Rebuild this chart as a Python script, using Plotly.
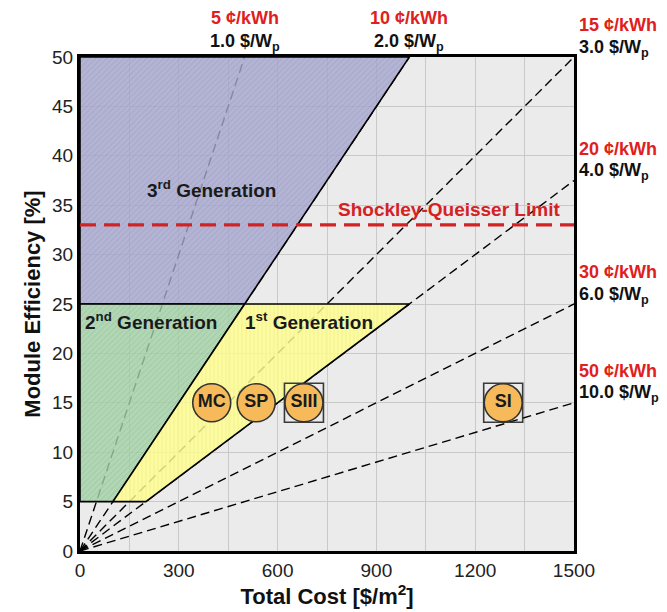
import plotly.graph_objects as go

# Cost-parity reference lines: module price [$/Wp] and matching LCOE [cents/kWh]
price_per_wp = [1.0, 2.0, 3.0, 4.0, 6.0, 10.0]
cents_per_kwh = [5, 10, 15, 20, 30, 50]

# Technology generation regions (cost [$/m2], efficiency [%])
gen3_cost = [0, 500, 1000, 0]
gen3_eff = [25, 25, 50, 50]
gen2_cost = [0, 100, 500, 0]
gen2_eff = [5, 5, 25, 25]
gen1_cost = [100, 200, 1000, 500]
gen1_eff = [5, 5, 25, 25]

# Module technologies
tech_names = ["MC", "SP", "SIII", "SI"]
tech_cost = [400, 535, 680, 1285]
tech_eff = [15, 15, 15, 15]
tech_boxed = [False, False, True, True]

sq_limit = 33.0
x_max, y_max = 1500, 50

FONT = "Liberation Sans"

fig = go.Figure()

# Dashed iso-price lines: efficiency = cost / (10 * price)
for p in price_per_wp:
    x_end = min(x_max, y_max * 10 * p)
    fig.add_trace(go.Scatter(
        x=[0, x_end], y=[0, x_end / (10 * p)], mode="lines",
        line=dict(color="black", width=1.4, dash="9px,5px"),
        hoverinfo="skip", showlegend=False))

regions = [
    (gen3_cost, gen3_eff, "rgba(166,168,206,0.80)", "rgba(125,127,172,0.55)", "/"),
    (gen2_cost, gen2_eff, "rgba(162,210,168,0.80)", "rgba(118,166,124,0.55)", "/"),
    (gen1_cost, gen1_eff, "rgba(255,255,145,0.82)", "rgba(220,212,80,0.55)", "|"),
]
for xs, ys, bg, fg, shape in regions:
    fig.add_trace(go.Scatter(
        x=xs + xs[:1], y=ys + ys[:1], mode="lines", fill="toself",
        fillcolor=bg,
        fillpattern=dict(shape=shape, size=4, solidity=0.25,
                         fgcolor=fg, bgcolor=bg),
        line=dict(color="black", width=1.6),
        hoverinfo="skip", showlegend=False))

# Shockley-Queisser limit
fig.add_trace(go.Scatter(
    x=[0, x_max], y=[sq_limit, sq_limit], mode="lines",
    line=dict(color="#D42224", width=3.2, dash="16px,8px"),
    hoverinfo="skip", showlegend=False))

# Boxes around selected technologies
bx = [c for c, b in zip(tech_cost, tech_boxed) if b]
by = [e for e, b in zip(tech_eff, tech_boxed) if b]
fig.add_trace(go.Scatter(
    x=bx, y=by, mode="markers",
    marker=dict(symbol="square-open", size=39, color="#3a3a3a",
                line=dict(width=1.6, color="#3a3a3a")),
    hoverinfo="skip", showlegend=False))

fig.add_trace(go.Scatter(
    x=tech_cost, y=tech_eff, mode="markers+text", text=tech_names,
    textposition="middle center",
    textfont=dict(family=FONT, size=18, color="#1a1a1a", weight="bold"),
    marker=dict(symbol="circle", size=38, color="#F6BA5A",
                line=dict(width=1.6, color="#333333")),
    hoverinfo="skip", showlegend=False))

annotations = []
for p, c in zip(price_per_wp, cents_per_kwh):
    x_end = min(x_max, y_max * 10 * p)
    y_end = x_end / (10 * p)
    if x_end < x_max:
        ax, xanchor, xshift = x_end, "center", 0
        dy_price, dy_cents = 1.5, 3.9
    else:
        ax, xanchor, xshift = x_max, "left", 3
        dy_price, dy_cents = 0.9, 3.2
    for text, dy, color in [(f"<b>{c} ¢/kWh</b>", dy_cents, "#E02020"),
                            (f"<b>{p:.1f} $/W<sub>p</sub></b>", dy_price, "#111111")]:
        annotations.append(dict(
            x=ax, y=(y_end + dy) / y_max, xref="x", yref="paper",
            xanchor=xanchor, yanchor="middle", xshift=xshift,
            text=text, showarrow=False,
            font=dict(family=FONT, size=18, color=color)))

gen_labels = [
    (400, 36.6, "<b>3<sup>rd</sup> Generation</b>"),
    (215, 23.3, "<b>2<sup>nd</sup> Generation</b>"),
    (695, 23.3, "<b>1<sup>st</sup> Generation</b>"),
]
for gx, gy, gt in gen_labels:
    annotations.append(dict(x=gx, y=gy, xref="x", yref="y", text=gt,
                            showarrow=False, yanchor="middle",
                            font=dict(family=FONT, size=19, color="#1a1a1a")))

annotations.append(dict(
    x=1463, y=sq_limit + 0.3, xref="x", yref="y", xanchor="right",
    yanchor="bottom", showarrow=False,
    text="<b>Shockley-Queisser Limit</b>",
    font=dict(family=FONT, size=19, color="#D42224")))

axis_common = dict(
    showline=True, linecolor="black", linewidth=3, mirror=True,
    gridcolor="#C9C9C9", gridwidth=1, zeroline=False, ticks="",
    tickfont=dict(family=FONT, size=19, color="#222222"),
)

fig.update_layout(
    width=667, height=612,
    margin=dict(l=80, r=93, t=57, b=61),
    paper_bgcolor="white", plot_bgcolor="#EBEBEB",
    annotations=annotations,
    xaxis=dict(range=[0, x_max], tickvals=[0, 300, 600, 900, 1200, 1500],
               minor=dict(dtick=150, showgrid=True, gridcolor="#C9C9C9"),
               title=dict(text="<b>Total Cost [$/m<sup>2</sup>]</b>",
                          font=dict(family=FONT, size=22, color="#111111"),
                          standoff=4),
               **axis_common),
    yaxis=dict(range=[0, y_max], dtick=5,
               title=dict(text="<b>Module Efficiency [%]</b>",
                          font=dict(family=FONT, size=22, color="#111111"),
                          standoff=6),
               **axis_common),
)

fig.write_html("out.html")
